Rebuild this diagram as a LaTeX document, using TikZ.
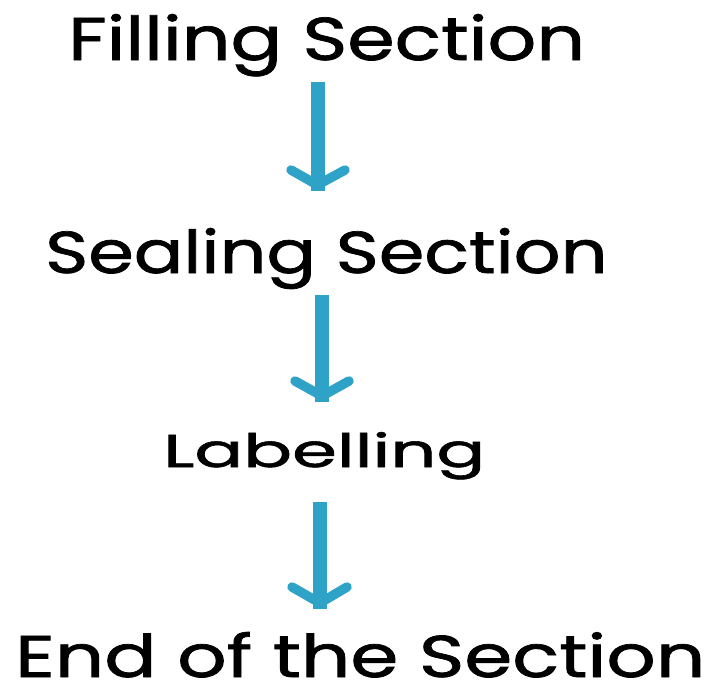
\documentclass[tikz,border=0pt]{standalone}
\usepackage{fontspec}
\setmainfont{Poppins}[UprightFeatures={FakeBold=1.2}]
\definecolor{flowblue}{RGB}{46,163,199}
\tikzset{
  stage/.style={inner sep=0pt, anchor=base west, text=black},
  shaft/.style={draw=flowblue, line width=14pt},
  head/.style={draw=flowblue, line width=9.5pt, line cap=round, line join=round},
}
\begin{document}
\begin{tikzpicture}[x=1pt,y=-1pt]
  \useasboundingbox (0,0) rectangle (709,686);
  % process stages, scaled to width and ascender height
  \node[stage] (fill) at (68,60) {\resizebox{517pt}{46pt}{Filling Section}};
  \node[stage] (seal) at (45,273) {\resizebox{562pt}{45pt}{Sealing Section}};
  \node[stage] (lab) at (163,467) {\resizebox{322pt}{35pt}{Labelling}};
  \node[stage] (end) at (15,677) {\resizebox{690pt}{45pt}{End of the Section}};
  % arrow points
  \coordinate (a1s) at (317.5,82);  \coordinate (a1t) at (317.5,185);
  \coordinate (a2s) at (322,295);   \coordinate (a2t) at (322,396);
  \coordinate (a3s) at (320,502);   \coordinate (a3t) at (320,603);
  % arrows between the stages
  \draw[shaft] (a1s) -- ([yshift=-6pt]a1t);
  \draw[head] (291,170) -- (a1t) -- (345,170);
  \draw[shaft] (a2s) -- ([yshift=-6pt]a2t);
  \draw[head] (295,381) -- (a2t) -- (349,381);
  \draw[shaft] (a3s) -- ([yshift=-6pt]a3t);
  \draw[head] (292,587) -- (a3t) -- (347,587);
\end{tikzpicture}
\end{document}
